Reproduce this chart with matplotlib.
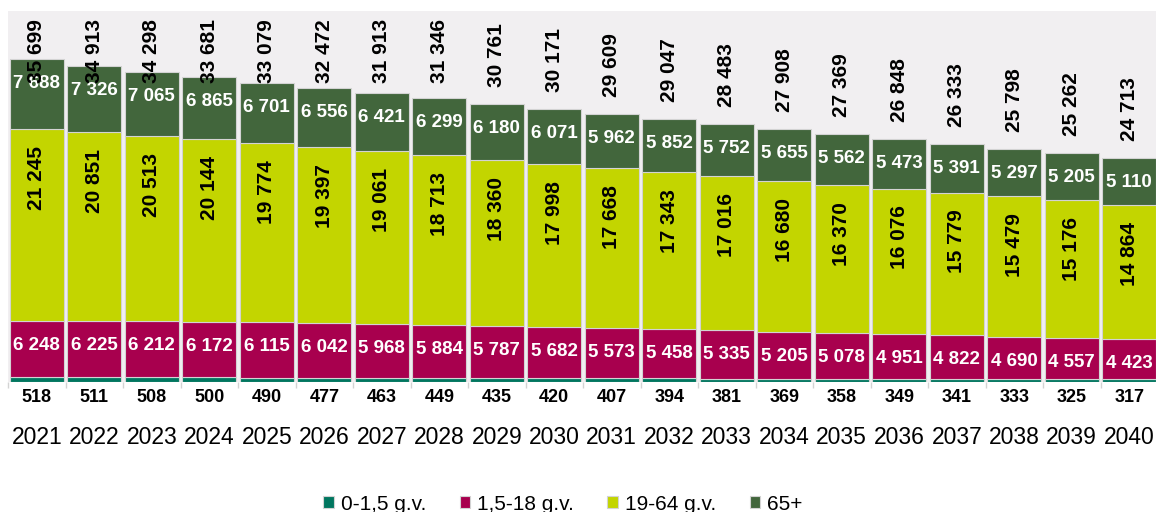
import matplotlib
matplotlib.use("Agg")
import matplotlib.pyplot as plt
from matplotlib.transforms import blended_transform_factory

plt.rcParams["font.family"] = ["Liberation Sans", "DejaVu Sans"]

years = [str(y) for y in range(2021, 2041)]
g_0_15 = [518, 511, 508, 500, 490, 477, 463, 449, 435, 420,
          407, 394, 381, 369, 358, 349, 341, 333, 325, 317]
g_15_18 = [6248, 6225, 6212, 6172, 6115, 6042, 5968, 5884, 5787, 5682,
           5573, 5458, 5335, 5205, 5078, 4951, 4822, 4690, 4557, 4423]
g_19_64 = [21245, 20851, 20513, 20144, 19774, 19397, 19061, 18713, 18360, 17998,
           17668, 17343, 17016, 16680, 16370, 16076, 15779, 15479, 15176, 14864]
g_65 = [7688, 7326, 7065, 6865, 6701, 6556, 6421, 6299, 6180, 6071,
        5962, 5852, 5752, 5655, 5562, 5473, 5391, 5297, 5205, 5110]
totals = [35699, 34913, 34298, 33681, 33079, 32472, 31913, 31346, 30761, 30171,
          29609, 29047, 28483, 27908, 27369, 26848, 26333, 25798, 25262, 24713]

labels = ["0-1,5 g.v.", "1,5-18 g.v.", "19-64 g.v.", "65+"]
colors = ["#00765F", "#A8004E", "#C3D500", "#42663C"]


def fmt(v):
    return f"{v:,}".replace(",", " ")


W, H = 1156, 512
fig = plt.figure(figsize=(W / 100, H / 100), dpi=100)
ax_left, ax_top, ax_bottom, ax_w = 8, 11, 382, 1150
ax = fig.add_axes([ax_left / W, 1 - ax_bottom / H, ax_w / W, (ax_bottom - ax_top) / H])
ax.set_facecolor("#F1EFF1")

YMAX = 41000
ppu = (ax_bottom - ax_top) / YMAX  # pixels per unit

x = list(range(len(years)))
bottom = [0] * len(years)
series = [g_0_15, g_15_18, g_19_64, g_65]
for vals, col, lab in zip(series, colors, labels):
    ax.bar(x, vals, bottom=bottom, width=0.94, color=col, edgecolor="#D3D3D3",
           linewidth=0.8, label=lab)
    bottom = [b + v for b, v in zip(bottom, vals)]

# labels inside the segments (placed near the segment top)
tops1 = [a + b for a, b in zip(g_0_15, g_15_18)]
tops2 = [a + b for a, b in zip(tops1, g_19_64)]
tops3 = [a + b for a, b in zip(tops2, g_65)]
for i in x:
    ax.annotate(fmt(g_15_18[i]), (i, tops1[i]), xytext=(0, -16), textcoords="offset pixels",
                ha="center", va="top", color="white", fontsize=13.5, fontweight="bold")
    ax.annotate(fmt(g_19_64[i]), (i, tops2[i]), xytext=(0, -17), textcoords="offset pixels",
                ha="center", va="top", color="black", fontsize=15, fontweight="bold",
                rotation=90)
    ax.annotate(fmt(g_65[i]), (i, tops3[i]), xytext=(0, -16), textcoords="offset pixels",
                ha="center", va="top", color="white", fontsize=13.5, fontweight="bold")
    # total above the bar, kept inside the plot area
    top_px = (YMAX - tops3[i]) * ppu
    off = 17
    if top_px - off < 72:
        off = top_px - 72
    ax.annotate(fmt(totals[i]), (i, tops3[i]), xytext=(0, off), textcoords="offset pixels",
                ha="center", va="bottom", color="black", fontsize=15, fontweight="bold",
                rotation=90)

# smallest group shown under the axis
trans = blended_transform_factory(ax.transData, ax.transAxes)
for i in x:
    ax.text(i, -15 / (ax_bottom - ax_top), fmt(g_0_15[i]), transform=trans,
            ha="center", va="center", fontsize=13, fontweight="bold")

ax.set_xlim(-0.5, len(years) - 0.5)
ax.set_ylim(0, YMAX)
ax.set_yticks([])
ax.set_xticks(x)
ax.set_xticklabels(years, fontsize=16.5)
ax.tick_params(axis="x", which="major", length=0, pad=32)
ax.set_xticks([i - 0.5 for i in range(len(years) + 1)], minor=True)
ax.tick_params(axis="x", which="minor", length=4.5, width=1, color="#D3D3D3")
for s in ax.spines.values():
    s.set_visible(False)

fig.legend(loc="center", bbox_to_anchor=(563 / W, 1 - 504 / H), ncol=4, frameon=False,
           fontsize=15, handlelength=0.5, handleheight=0.5, handletextpad=0.35,
           columnspacing=1.6)

fig.savefig("out.png", dpi=100)
